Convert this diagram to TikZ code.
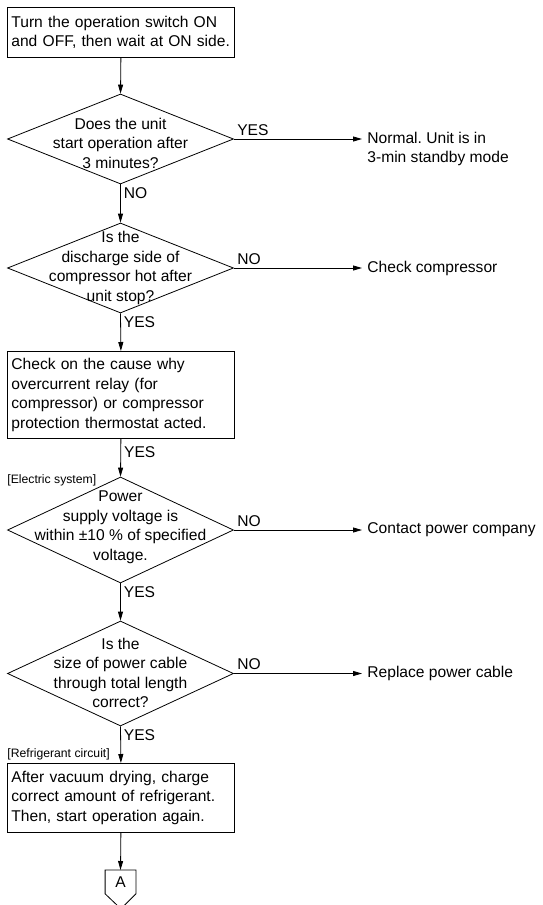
\documentclass[tikz,border=0pt]{standalone}
\usepackage{fontspec}
\setmainfont{Liberation Sans}
\usetikzlibrary{shapes.geometric,arrows.meta}
\frenchspacing

\begin{document}
\begin{tikzpicture}[x=1pt,y=-1pt,
  line width=0.8pt,
  every node/.style={font=\fontsize{15.6}{19.5}\selectfont},
  flowbox/.style={draw, minimum width=227pt, text width=219pt, align=left,
    inner xsep=4pt, inner ysep=0pt, anchor=north west},
  decision/.style={draw, diamond, minimum width=226pt, minimum height=#1, inner sep=0pt},
  qtext/.style={align=center, inner sep=0pt},
  outtext/.style={align=left, anchor=west, inner xsep=5pt, inner ysep=0pt},
  lbl/.style={inner xsep=3pt, inner ysep=3pt},
  section/.style={font=\fontsize{12.2}{14}\selectfont, anchor=west, inner xsep=2pt, inner ysep=0pt},
  flow/.style={-{Triangle[length=9pt,width=5pt]}},
]
\useasboundingbox (0,0) rectangle (542,905);

% process boxes
\node[flowbox, minimum height=50pt] (b1) at (7,7)
  {Turn the operation switch ON\\and OFF, then wait at ON side.};
\node[flowbox, minimum height=87pt] (b2) at (7,351)
  {Check on the cause why\\overcurrent relay (for\\compressor) or compressor\\protection thermostat acted.};
\node[flowbox, minimum height=69pt] (b3) at (7,763)
  {After vacuum drying, charge\\correct amount of refrigerant.\\Then, start operation again.};

% decisions
\node[decision=90pt]  (d1) at (120.5,139) {};
\node[decision=90pt]  (d2) at (120.5,268) {};
\node[decision=106pt] (d3) at (120.5,530) {};
\node[decision=105pt] (d4) at (120.5,673.5) {};
\node[qtext] (q1) at (120.5,143) {Does the unit\\start operation after\\3 minutes?};
\node[qtext] (q2) at (120.5,268) {Is the\\discharge side of\\compressor hot after\\unit stop?};
\node[qtext] (q3) at (120.5,527) {Power\\supply voltage is\\within ±10 \% of specified\\voltage.};
\node[qtext] (q4) at (120.5,673) {Is the\\size of power cable\\through total length\\correct?};

% section headings
\node[section] (s1) at (5,480) {[Electric system]};
\node[section] (s2) at (5,754) {[Refrigerant circuit]};

% results
\node[outtext] (o1) at (362,149) {Normal. Unit is in\\3-min standby mode};
\node[outtext] (o2) at (362,268) {Check compressor};
\node[outtext] (o3) at (362,530) {Contact power company};
\node[outtext] (o4) at (362,673.5) {Replace power cable};

% off-page connector
\node[minimum width=30pt, minimum height=23pt, inner sep=0pt, anchor=north] (A) at (120.5,870) {A};
\draw (A.south west) -- (A.north west) -- (A.north east) -- (A.south east)
  -- ++(-15,15) -- cycle;

% main flow
\draw[flow] (b1.south) -- (d1.north);
\draw[flow] (d1.south) -- node[lbl, pos=0, anchor=north west] {NO} (d2.north);
\draw[flow] (d2.south) -- node[lbl, pos=0, anchor=north west] {YES} (b2.north);
\draw[flow] (b2.south) -- node[lbl, pos=0.35, anchor=west, inner ysep=0pt] {YES} (d3.north);
\draw[flow] (d3.south) -- node[lbl, pos=0, anchor=north west] {YES} (d4.north);
\draw[flow] (d4.south) -- node[lbl, pos=0, anchor=north west] {YES} (b3.north);
\draw[flow] (b3.south) -- (A.north);

% side branches
\draw[flow] (d1.east) -- node[lbl, pos=0, anchor=south west] {YES} (d1.east -| o1.west);
\draw[flow] (d2.east) -- node[lbl, pos=0, anchor=south west] {NO} (o2.west);
\draw[flow] (d3.east) -- node[lbl, pos=0, anchor=south west] {NO} (o3.west);
\draw[flow] (d4.east) -- node[lbl, pos=0, anchor=south west] {NO} (o4.west);
\end{tikzpicture}
\end{document}
